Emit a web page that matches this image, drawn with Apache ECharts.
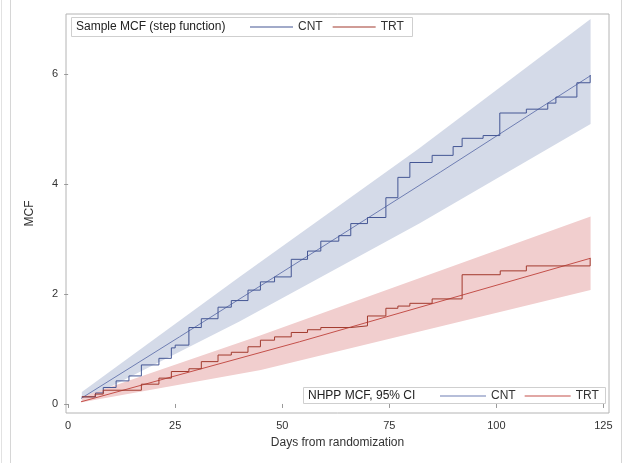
<!DOCTYPE html>
<html>
<head>
<meta charset="utf-8">
<script src="https://cdn.jsdelivr.net/npm/echarts@6/dist/echarts.min.js"></script>
<style>
  html, body { margin: 0; padding: 0; background: #fff; }
  #chart { width: 624px; height: 463px; }
</style>
</head>
<body>
<div id="chart"></div>
<script>
  // sample MCF, step function (value after each jump)
  var cntStepX = [3.2, 6.4, 8.2, 11.2, 14.2, 17.1, 21.2, 24.1, 25.0, 28.2, 31.1, 35.0, 38.1, 42.0, 44.9, 48.2,
    52.1, 55.9, 59.0, 63.2, 66.0, 69.9, 74.2, 77.0, 79.8, 85.0, 89.9, 92.0, 96.9, 100.8, 107.0, 112.0, 113.9, 118.8, 121.9];
  var cntStepY = [0.13, 0.20, 0.30, 0.42, 0.51, 0.71, 0.83, 1.02, 1.07, 1.39, 1.55, 1.76, 1.88, 2.07, 2.22, 2.31,
    2.63, 2.78, 2.96, 3.06, 3.28, 3.39, 3.75, 4.12, 4.39, 4.52, 4.68, 4.83, 4.88, 5.29, 5.36, 5.47, 5.58, 5.84, 5.98];
  var trtStepX = [3.2, 6.3, 8.2, 17.1, 21.2, 24.1, 28.2, 31.1, 35.0, 38.1, 42.0, 44.9, 48.2, 52.1, 55.9, 59.0,
    66.0, 69.9, 74.2, 77.0, 79.8, 85.0, 92.0, 100.9, 107.0, 121.9];
  var trtStepY = [0.13, 0.18, 0.25, 0.36, 0.47, 0.59, 0.64, 0.77, 0.89, 0.94, 1.04, 1.16, 1.22, 1.30, 1.35, 1.39,
    1.42, 1.60, 1.74, 1.78, 1.83, 1.91, 2.35, 2.42, 2.51, 2.65];

  // NHPP fitted MCF
  var cntFitX = [3, 26, 59, 87, 122];
  var cntFitY = [0.10, 1.22, 2.84, 4.22, 5.97];
  var trtFitX = [3, 54, 122];
  var trtFitY = [0.04, 1.13, 2.65];

  // 95% CI bands
  var cntBandX = [3.2, 40, 82, 122];
  var cntBandUp = [0.22, 2.31, 4.65, 7.0];
  var cntBandLo = [0.05, 1.50, 3.28, 5.09];
  var trtBandX = [3.2, 45, 122];
  var trtBandUp = [0.13, 1.25, 3.41];
  var trtBandLo = [0.03, 0.62, 2.07];

  var xTicks = [0, 25, 50, 75, 100, 125];
  var yTicks = [0, 2, 4, 6];

  var FONT = 'Liberation Sans, Arial, sans-serif';
  var BLUE = '#445694', RED = '#A23A2E';
  var BLUE_FIT = '#6F7EB3', RED_FIT = '#C4504A';

  function zip(xs, ys) {
    return xs.map(function (x, i) { return [x, ys[i]]; });
  }

  function bandSeries(xs, up, lo, color) {
    return {
      type: 'custom',
      silent: true,
      clip: true,
      data: [[xs[0], lo[0]]],
      renderItem: function (params, api) {
        var pts = [];
        for (var i = 0; i < xs.length; i++) pts.push(api.coord([xs[i], up[i]]));
        for (var j = xs.length - 1; j >= 0; j--) pts.push(api.coord([xs[j], lo[j]]));
        return { type: 'polygon', shape: { points: pts }, style: { fill: color } };
      }
    };
  }

  function lineSeries(name, data, color, step) {
    return {
      name: name,
      type: 'line',
      step: step,
      data: data,
      symbol: 'none',
      lineStyle: { color: color, width: 1 },
      itemStyle: { color: color }
    };
  }

  var chart = echarts.init(document.getElementById('chart'));
  chart.setOption({
    animation: false,
    grid: {
      left: 66, top: 14, width: 543, height: 399,
      show: true, borderColor: '#b4b4b4', borderWidth: 1, backgroundColor: '#fff'
    },
    xAxis: {
      type: 'value', min: -0.5, max: 126.3,
      name: 'Days from randomization', nameLocation: 'middle', nameGap: 24,
      nameTextStyle: { fontFamily: FONT, fontSize: 12, color: '#333' },
      axisLine: { show: false },
      axisTick: { show: true, length: 4, customValues: xTicks, lineStyle: { color: '#999' } },
      axisLabel: { customValues: xTicks, margin: 7, fontFamily: FONT, fontSize: 11, color: '#333' },
      splitLine: { show: false }
    },
    yAxis: {
      type: 'value', min: -0.164, max: 7.09,
      name: 'MCF', nameLocation: 'middle', nameGap: 30, nameRotate: 90,
      nameTextStyle: { fontFamily: FONT, fontSize: 12, color: '#333' },
      axisLine: { show: false },
      axisTick: { show: true, length: 4, customValues: yTicks, lineStyle: { color: '#999' } },
      axisLabel: { customValues: yTicks, margin: 8, fontFamily: FONT, fontSize: 11, color: '#333' },
      splitLine: { show: false }
    },
    legend: [{
      data: ['Sample CNT', 'Sample TRT'],
      left: 250, top: 21, padding: 0, z: 10,
      icon: 'rect', itemWidth: 43, itemHeight: 1, itemGap: 10,
      formatter: function (n) { return n.split(' ')[1]; },
      textStyle: { fontFamily: FONT, fontSize: 12, color: '#333', lineHeight: 12 }
    }, {
      data: ['NHPP CNT', 'NHPP TRT'],
      left: 440, top: 390, padding: 0, z: 10,
      icon: 'rect', itemWidth: 46, itemHeight: 1, itemGap: 9,
      formatter: function (n) { return n.split(' ')[1]; },
      textStyle: { fontFamily: FONT, fontSize: 12, color: '#333', lineHeight: 12 }
    }],
    graphic: [
      { type: 'line', shape: { x1: 1.5, y1: 0, x2: 1.5, y2: 463 }, style: { stroke: '#e2e2e2', lineWidth: 1 }, silent: true },
      { type: 'line', shape: { x1: 10.5, y1: 0, x2: 10.5, y2: 463 }, style: { stroke: '#d6d6d6', lineWidth: 1 }, silent: true },
      { type: 'line', shape: { x1: 621.5, y1: 0, x2: 621.5, y2: 463 }, style: { stroke: '#d6d6d6', lineWidth: 1 }, silent: true },
      { type: 'rect', shape: { x: 71.5, y: 17.5, width: 341, height: 19 }, style: { fill: '#fff', stroke: '#cfcfcf', lineWidth: 1 }, z: 5 },
      { type: 'text', x: 76, y: 27, style: { text: 'Sample MCF (step function)', fill: '#222', font: '12px ' + FONT, verticalAlign: 'middle' }, z: 6 },
      { type: 'rect', shape: { x: 303.5, y: 387.5, width: 302, height: 16 }, style: { fill: '#fff', stroke: '#cfcfcf', lineWidth: 1 }, z: 5 },
      { type: 'text', x: 308, y: 396, style: { text: 'NHPP MCF, 95% CI', fill: '#222', font: '12px ' + FONT, verticalAlign: 'middle' }, z: 6 }
    ],
    series: [
      bandSeries(cntBandX, cntBandUp, cntBandLo, '#D4DAE8'),
      bandSeries(trtBandX, trtBandUp, trtBandLo, '#F1CECE'),
      lineSeries('NHPP CNT', zip(cntFitX, cntFitY), BLUE_FIT, false),
      lineSeries('NHPP TRT', zip(trtFitX, trtFitY), RED_FIT, false),
      lineSeries('Sample CNT', zip(cntStepX, cntStepY), BLUE, 'end'),
      lineSeries('Sample TRT', zip(trtStepX, trtStepY), RED, 'end')
    ]
  });
</script>
</body>
</html>
